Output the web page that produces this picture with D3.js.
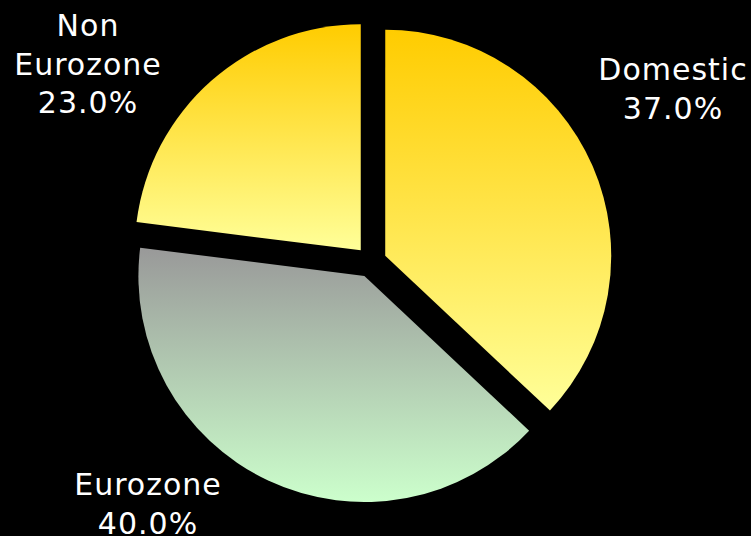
<!DOCTYPE html>
<html>
<head>
<meta charset="utf-8">
<script src="https://cdn.jsdelivr.net/npm/d3@7/dist/d3.min.js"></script>
<style>
  html, body { margin: 0; padding: 0; background: #000; }
  svg { display: block; }
</style>
</head>
<body>
<svg id="chart" width="751" height="536"></svg>
<script>
// Share of sales by region
const categories = ["Domestic", "Eurozone", "Non Eurozone"];
const shares = [37.0, 40.0, 23.0];
const gradientStops = [
  ["#FFCC00", "#FFFF99"],
  ["#999999", "#CCFFCC"],
  ["#FFCC00", "#FFFF99"]
];
// text lines shown beside each slice
const labelLines = [
  ["Domestic", "37.0%"],
  ["Eurozone", "40.0%"],
  ["Non", "Eurozone", "23.0%"]
];

const W = 751, H = 536;
const cx = 371, cy = 262, radius = 226, explode = 15.5;

const svg = d3.select("#chart");
svg.append("rect").attr("width", W).attr("height", H).attr("fill", "#000");

const defs = svg.append("defs");
gradientStops.forEach((s, i) => {
  const g = defs.append("linearGradient")
    .attr("id", "grad" + i)
    .attr("x1", 0).attr("y1", 0).attr("x2", 0).attr("y2", 1);
  g.append("stop").attr("offset", "0%").attr("stop-color", s[0]);
  g.append("stop").attr("offset", "100%").attr("stop-color", s[1]);
});

const data = categories.map((c, i) => ({ name: c, value: shares[i], i }));
const pie = d3.pie().value(d => d.value).sort(null);
const arc = d3.arc().innerRadius(0).outerRadius(radius);
const arcs = pie(data);

const g = svg.append("g").attr("transform", `translate(${cx},${cy})`);
g.selectAll("path")
  .data(arcs)
  .join("path")
  .attr("d", arc)
  .attr("fill", d => `url(#grad${d.data.i})`)
  .attr("transform", d => {
    const mid = (d.startAngle + d.endAngle) / 2;
    return `translate(${Math.sin(mid) * explode},${-Math.cos(mid) * explode})`;
  });

// Labels, placed outside each slice
const labelPos = [
  { x: 673, y: 80 },   // baseline of first line
  { x: 148, y: 495 },
  { x: 88, y: 36 }
];
const lineGap = 38.5;
const labels = svg.append("g")
  .attr("font-family", "'DejaVu Sans', Verdana, sans-serif")
  .attr("font-size", 30)
  .attr("letter-spacing", 1)
  .attr("fill", "#fff")
  .attr("text-anchor", "middle");
labelLines.forEach((lines, i) => {
  const t = labels.append("text");
  lines.forEach((ln, k) => {
    t.append("tspan")
      .attr("x", labelPos[i].x)
      .attr("y", labelPos[i].y + k * lineGap)
      .text(ln);
  });
});
</script>
</body>
</html>
